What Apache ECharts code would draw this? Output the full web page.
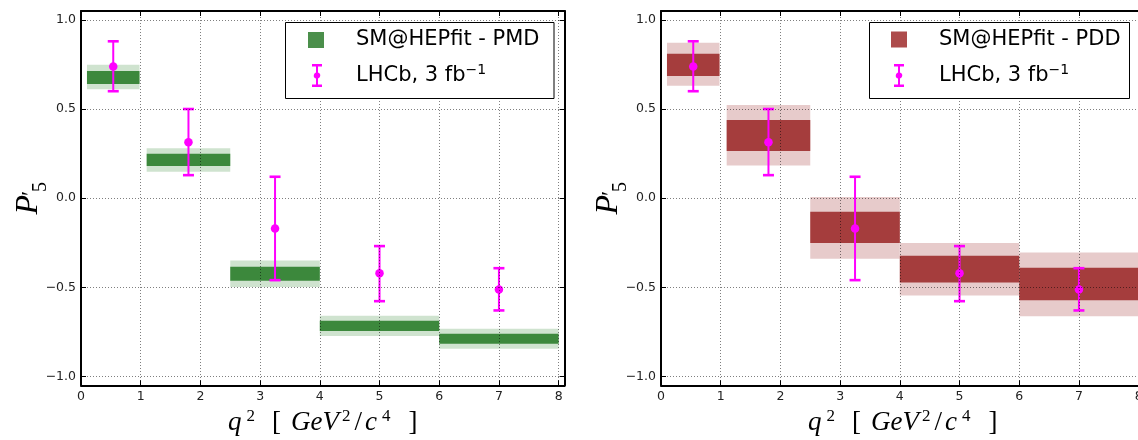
<!DOCTYPE html>
<html><head><meta charset="utf-8">
<script src="https://cdn.jsdelivr.net/npm/echarts@6/dist/echarts.min.js"></script>
<style>html,body{margin:0;padding:0;background:#fff}#c{width:1138px;height:440px}</style>
</head><body><div id="c"></div>
<script>
// ---- data ----
const binLo = [0.1, 1.1, 2.5, 4, 6];
const binHi = [0.98, 2.5, 4, 6, 8];

const pmdInnerLo = [0.641, 0.181, -0.464, -0.746, -0.817];
const pmdInnerHi = [0.714, 0.249, -0.385, -0.688, -0.761];
const pmdOuterLo = [0.611, 0.148, -0.499, -0.774, -0.845];
const pmdOuterHi = [0.749, 0.280, -0.350, -0.660, -0.733];

const pddInnerLo = [0.686, 0.265, -0.252, -0.473, -0.573];
const pddInnerHi = [0.810, 0.439, -0.077, -0.323, -0.391];
const pddOuterLo = [0.631, 0.183, -0.340, -0.546, -0.663];
const pddOuterHi = [0.872, 0.523, 0.007, -0.252, -0.305];

const lhcbX  = [0.54, 1.8, 3.25, 5.0, 7.0];
const lhcbY  = [0.738, 0.314, -0.170, -0.422, -0.512];
const lhcbLo = [0.600, 0.129, -0.460, -0.578, -0.630];
const lhcbHi = [0.880, 0.500, 0.120, -0.269, -0.393];

const xTicks = [0, 1, 2, 3, 4, 5, 6, 7, 8];
const yTicks = [-1.0, -0.5, 0.0, 0.5, 1.0];
const xRange = [0, 8.1];
const yRange = [-1.05, 1.05];

const nameLHCb = 'LHCb, 3 fb-1';
const namePMD = 'SM@HEPfit - PMD';
const namePDD = 'SM@HEPfit - PDD';

// ---- styling ----
const MAGENTA = '#ff00ff';
const GREEN_D = '#3c883c', GREEN_L = '#cfe3cf', GREEN_LEG = '#4b8f4b';
const RED_D = '#a53d3d', RED_L = '#e7cbcb', RED_LEG = '#ad4b4b';
const GRID_TOP = 11, GRID_H = 374.3, GRID_W = 483.6;
const GRID_LEFT = [81, 661];

const chart = echarts.init(document.getElementById('c'), null, {renderer: 'canvas'});

function bandData(lo, hi) { return binLo.map((x0, i) => [x0, binHi[i], lo[i], hi[i]]); }
function bandRender(color) {
  return function (params, api) {
    const p0 = api.coord([api.value(0), api.value(3)]);
    const p1 = api.coord([api.value(1), api.value(2)]);
    return {type: 'rect', shape: {x: p0[0], y: p0[1], width: p1[0] - p0[0], height: p1[1] - p0[1]},
            style: {fill: color}};
  };
}
function errRender(params, api) {
  const x = api.value(0);
  const a = api.coord([x, api.value(1)]);
  const b = api.coord([x, api.value(2)]);
  const c = 5.5;
  const st = {stroke: MAGENTA, lineWidth: 2};
  const cs = {stroke: MAGENTA, lineWidth: 2.6};
  return {type: 'group', children: [
    {type: 'line', shape: {x1: a[0], y1: a[1], x2: b[0], y2: b[1]}, style: st},
    {type: 'line', shape: {x1: a[0] - c, y1: a[1], x2: a[0] + c, y2: a[1]}, style: cs},
    {type: 'line', shape: {x1: b[0] - c, y1: b[1], x2: b[0] + c, y2: b[1]}, style: cs}
  ]};
}

const serifI = {fontFamily: 'Liberation Serif', fontStyle: 'italic', color: '#000'};
const serifN = {fontFamily: 'Liberation Serif', color: '#000'};
const xName = '{i|q}{u1|2}{b1|[}{g|GeV}{u2|2}{sl|/}{i|c}{u3|4}{b2|]}';
const xRich = {
  i: Object.assign({fontSize: 27, lineHeight: 30}, serifI),
  g: Object.assign({fontSize: 27, lineHeight: 30, padding: [0, 0, 0, 10]}, serifI),
  u1: Object.assign({fontSize: 17, lineHeight: 13, verticalAlign: 'top', padding: [0, 0, 0, 5]}, serifN),
  u2: Object.assign({fontSize: 17, lineHeight: 13, verticalAlign: 'top', padding: [0, 0, 0, 3]}, serifN),
  u3: Object.assign({fontSize: 17, lineHeight: 13, verticalAlign: 'top', padding: [0, 0, 0, 5]}, serifN),
  b1: Object.assign({fontSize: 27, lineHeight: 30, padding: [0, 0, 0, 17]}, serifN),
  b2: Object.assign({fontSize: 27, lineHeight: 30, padding: [0, 0, 0, 18]}, serifN),
  sl: Object.assign({fontSize: 27, lineHeight: 30, padding: [0, 3, 0, 4]}, serifN)
};
const yName = '{p|P}{q|\u2032}{s|5}';
const yRich = {
  p: Object.assign({fontSize: 32, lineHeight: 32, padding: [0, 0, 12, 0]}, serifI),
  q: {fontFamily: 'Liberation Serif', fontSize: 24, lineHeight: 24, verticalAlign: 'top', width: 3, color: '#000'},
  s: Object.assign({fontSize: 20, lineHeight: 20, verticalAlign: 'bottom'}, serifN)
};

const gridLine = {show: true, lineStyle: {color: 'rgba(0,0,0,0.5)', width: 1, type: [1, 2]}};
const frame = {show: true, onZero: false, lineStyle: {color: '#000', width: 2}};
const tickLbl = {fontSize: 12.5, color: '#222', fontFamily: 'DejaVu Sans'};

const grids = [], xAxes = [], yAxes = [], series = [];
[0, 1].forEach(g => {
  grids.push({left: GRID_LEFT[g], top: GRID_TOP, width: GRID_W, height: GRID_H,
              containLabel: false, outerBoundsMode: 'none'});
  xAxes.push({gridIndex: g, type: 'value', min: xRange[0], max: xRange[1], position: 'bottom', z: 10,
    axisLine: frame, axisTick: {show: true, inside: true, length: 5, customValues: xTicks, lineStyle: {color: '#000', width: 1}},
    axisLabel: Object.assign({customValues: xTicks, margin: 5}, tickLbl),
    splitLine: gridLine,
    name: xName, nameLocation: 'middle', nameGap: 23, nameTextStyle: {rich: xRich}});
  xAxes.push({gridIndex: g, type: 'value', min: xRange[0], max: xRange[1], position: 'top', z: 10,
    axisLine: frame, axisTick: {show: true, inside: true, length: 5, customValues: xTicks, lineStyle: {color: '#000', width: 1}},
    axisLabel: {show: false}, splitLine: {show: false}});
  yAxes.push({gridIndex: g, type: 'value', min: yRange[0], max: yRange[1], position: 'left', z: 10,
    axisLine: frame, axisTick: {show: true, inside: true, length: 5, customValues: yTicks, lineStyle: {color: '#000', width: 1}},
    axisLabel: Object.assign({customValues: yTicks, margin: 5,
      formatter: v => (v < 0 ? '\u2212' : '') + Math.abs(v).toFixed(1)}, tickLbl),
    splitLine: gridLine,
    name: yName, nameLocation: 'middle', nameRotate: 90, nameGap: 30, nameMoveOverlap: false,
    nameTextStyle: {rich: yRich}});
  yAxes.push({gridIndex: g, type: 'value', min: yRange[0], max: yRange[1], position: 'right', z: 10,
    axisLine: frame, axisTick: {show: true, inside: true, length: 5, customValues: yTicks, lineStyle: {color: '#000', width: 1}},
    axisLabel: {show: false}, splitLine: {show: false}});

  const xi = g * 2, yi = g * 2;
  const dark = g === 0 ? GREEN_D : RED_D, light = g === 0 ? GREEN_L : RED_L;
  const oLo = g === 0 ? pmdOuterLo : pddOuterLo, oHi = g === 0 ? pmdOuterHi : pddOuterHi;
  const iLo = g === 0 ? pmdInnerLo : pddInnerLo, iHi = g === 0 ? pmdInnerHi : pddInnerHi;
  series.push({type: 'custom', name: (g === 0 ? namePMD : namePDD) + ' (outer)', xAxisIndex: xi, yAxisIndex: yi, z: 1,
    renderItem: bandRender(light), encode: {x: [0, 1], y: [2, 3]}, data: bandData(oLo, oHi), itemStyle: {color: light}, silent: true});
  series.push({type: 'custom', name: g === 0 ? namePMD : namePDD, xAxisIndex: xi, yAxisIndex: yi, z: 2,
    renderItem: bandRender(dark), encode: {x: [0, 1], y: [2, 3]}, data: bandData(iLo, iHi), itemStyle: {color: dark}, silent: true});
  series.push({type: 'custom', name: nameLHCb, xAxisIndex: xi, yAxisIndex: yi, z: 3,
    renderItem: errRender, encode: {x: 0, y: [1, 2]}, data: lhcbX.map((x, i) => [x, lhcbLo[i], lhcbHi[i]]),
    itemStyle: {color: MAGENTA}, silent: true});
  series.push({type: 'scatter', name: nameLHCb, xAxisIndex: xi, yAxisIndex: yi, z: 4,
    symbol: 'circle', symbolSize: 8.5, itemStyle: {color: MAGENTA, opacity: 1},
    data: lhcbX.map((x, i) => [x, lhcbY[i]]), silent: true});
});

const errIcon = 'path://M0,0H10V2.5H6V8.46A3.2,3.2,0,0,1,6,14.54V20.5H10V23H0V20.5H4V14.54A3.2,3.2,0,0,1,4,8.46V2.5H0Z';
const legText = {fontSize: 21, fontFamily: 'DejaVu Sans', color: '#000', lineHeight: 24};
function bandLegend(name, color, left, top) {
  return {left: left, top: top, padding: 0, itemWidth: 16, itemHeight: 16, selectedMode: false, z: 20,
    data: [{name: name, icon: 'rect', itemStyle: {color: color, borderWidth: 0}}],
    formatter: n => '{sp| }{t|' + n + '}',
    textStyle: {rich: {sp: {width: 27}, t: legText}}};
}
function lhcbLegend(left, top, gap) {
  return {left: left, top: top, padding: 0, itemWidth: 10, itemHeight: 23, selectedMode: false, z: 20,
    data: [{name: nameLHCb, icon: errIcon, itemStyle: {color: MAGENTA, borderWidth: 0}}],
    formatter: () => '{sp| }{t|LHCb, 3 fb}{s|\u22121}',
    textStyle: {rich: {sp: {width: gap}, t: legText,
      s: {fontSize: 14, lineHeight: 14, verticalAlign: 'top', fontFamily: 'DejaVu Sans', color: '#000'}}}};
}

chart.setOption({
  animation: false,
  backgroundColor: '#fff',
  grid: grids, xAxis: xAxes, yAxis: yAxes, series: series,
  legend: [
    bandLegend(namePMD, GREEN_LEG, 308, 29.5),
    lhcbLegend(312, 63.5, 29),
    bandLegend(namePDD, RED_LEG, 891, 29),
    lhcbLegend(894, 63.5, 30)
  ],
  graphic: [
    {type: 'rect', z: 15, shape: {x: 285.5, y: 22.5, width: 268.5, height: 76}, style: {fill: '#fff', stroke: '#000', lineWidth: 1}},
    {type: 'rect', z: 15, shape: {x: 869.5, y: 22.5, width: 260, height: 76}, style: {fill: '#fff', stroke: '#000', lineWidth: 1}}
  ]
});
</script></body></html>
